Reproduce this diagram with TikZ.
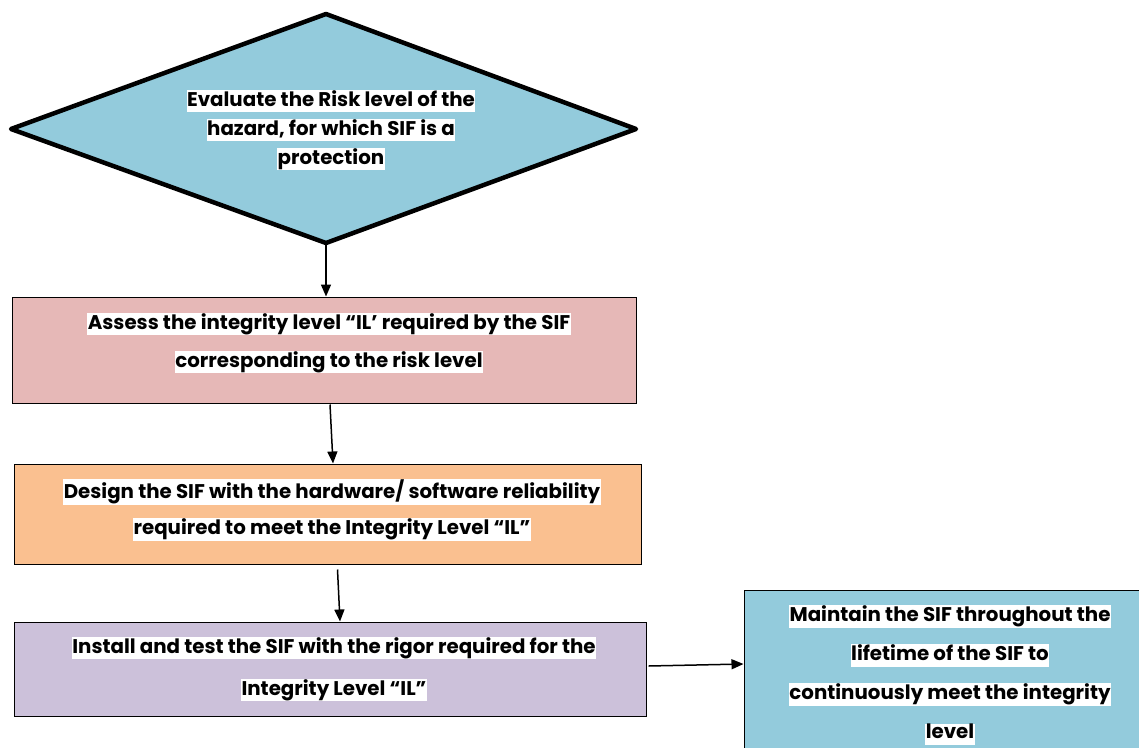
\documentclass[tikz,border=0pt]{standalone}
\usepackage{fontspec}
\setmainfont{Poppins}
\usetikzlibrary{arrows.meta}
\definecolor{dblue}{HTML}{93CBDC}
\definecolor{pinkc}{HTML}{E6B8B7}
\definecolor{orangec}{HTML}{FAC090}
\definecolor{lilac}{HTML}{CCC1DA}
\setlength{\fboxsep}{0.5pt}
\newcommand{\hl}[1]{\colorbox{white}{\rule[-0.28em]{0pt}{1.0em}#1}}
\tikzset{
  boxstyle/.style={draw=black, line width=1pt, rectangle, inner sep=0pt},
  txt/.style={align=center, inner sep=0pt, font=\bfseries\fontsize{19.8}{#1}\selectfont},
  conn/.style={line width=1.5pt, -{Triangle[length=12pt,width=10pt]}},
}
\begin{document}
\begin{tikzpicture}[x=1pt,y=-1pt]
\useasboundingbox (0,0) rectangle (1139,747);
\draw[line width=4.5pt, line join=round, fill=dblue] (326,14) -- (636,129) -- (326,243) -- (11,129) -- cycle;
\coordinate (dbot) at (326,243);
\node[txt=29] (d) at (331,130)
  {\hl{Evaluate the Risk level of the}\\\hl{hazard, for which SIF is a}\\\hl{protection}};
\node[boxstyle, fill=pinkc, minimum width=624pt, minimum height=106pt] (b1) at (324,350) {};
\node[txt=38] (t1) at (329,343)
  {\hl{Assess the integrity level “IL’ required by the SIF}\\\hl{corresponding to the risk level}};
\node[boxstyle, fill=orangec, minimum width=627pt, minimum height=100pt] (b2) at (327.5,514) {};
\node[txt=36] (t2) at (332,510)
  {\hl{Design the SIF with the hardware/ software reliability}\\\hl{required to meet the Integrity Level “IL”}};
\node[boxstyle, fill=lilac, minimum width=632pt, minimum height=94pt] (b3) at (330,669) {};
\node[txt=42] (t3) at (334,669)
  {\hl{Install and test the SIF with the rigor required for the}\\\hl{Integrity Level “IL”}};
\node[boxstyle, fill=dblue, minimum width=400pt, minimum height=170pt] (b4) at (944,675) {};
\node[txt=39] (t4) at (950,675)
  {\hl{Maintain the SIF throughout the}\\\hl{lifetime of the SIF to}\\\hl{continuously meet the integrity}\\\hl{level}};
\draw[conn] (dbot) -- (dbot |- b1.north);
\draw[conn] ([xshift=6pt,yshift=-1pt]b1.south) -- ([xshift=5.5pt]b2.north);
\draw[conn] ([xshift=10pt,yshift=-5pt]b2.south) -- ([xshift=10pt]b3.north);
\draw[conn] ([xshift=2pt,yshift=3pt]b3.east) -- ([yshift=11pt]b4.west);
\end{tikzpicture}
\end{document}
